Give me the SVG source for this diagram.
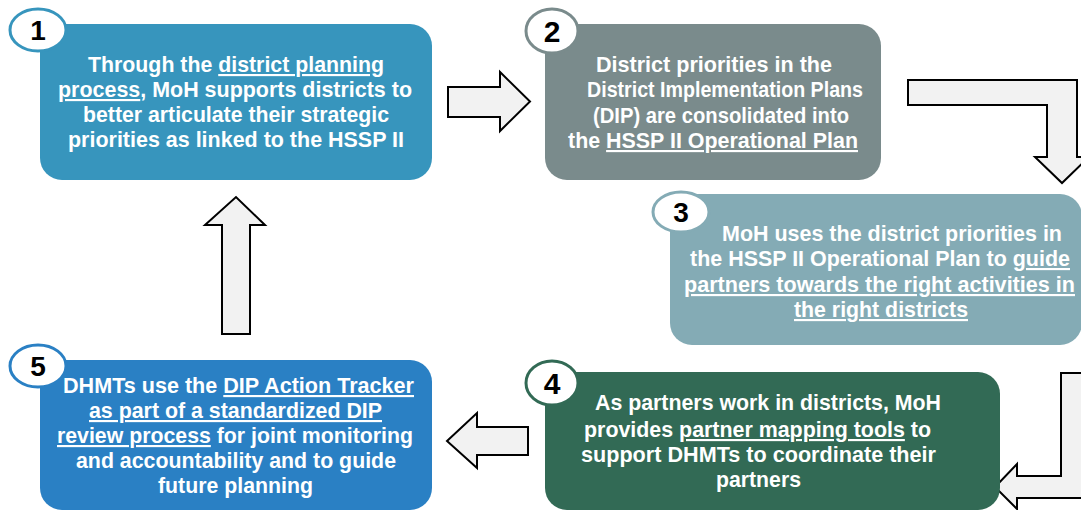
<svg xmlns="http://www.w3.org/2000/svg" width="1081" height="510" viewBox="0 0 1081 510">
  <style>
    .wide { font-family: "Liberation Sans", Arial, sans-serif; font-weight: bold; font-size: 21.5px; fill: #ffffff; }
    .narrow { font-family: "Liberation Sans Narrow", "Liberation Sans", Arial, sans-serif; font-weight: bold; font-size: 21.5px; fill: #ffffff; }
    .num { font-family: "Liberation Sans", Arial, sans-serif; font-weight: bold; font-size: 28px; fill: #000000; text-anchor: middle; }
    .numn { font-family: "Liberation Sans Narrow", "Liberation Sans", Arial, sans-serif; font-weight: bold; font-size: 30px; fill: #000000; text-anchor: middle; }
    .badge { fill: #ffffff; stroke-width: 3; }
    .arrow { fill: #f2f2f2; stroke: #000000; stroke-width: 2; stroke-linejoin: miter; }
    .u { text-decoration: underline; }
  </style>
  <rect width="1081" height="510" fill="#ffffff"/>

  <!-- connectors: block arrows between steps -->
  <g id="connectors">
    <path class="arrow" d="M448,87 L500,87 L500,72 L530,101.5 L500,131 L500,117 L448,117 Z"/>
    <path class="arrow" d="M908,80 L1077,80 L1077,157 L1089,157 L1062,183 L1035,157 L1047,157 L1047,105 L908,105 Z"/>
    <path class="arrow" d="M1061,373 L1095,373 L1095,498 L1017,498 L1017,509 L995,487 L1017,464 L1017,476 L1061,476 Z"/>
    <path class="arrow" d="M528,427 L477,427 L477,413 L447,441 L477,468 L477,455 L528,455 Z"/>
    <path class="arrow" d="M222,334 L222,225 L205,225 L236,197 L265,225 L250,225 L250,334 Z"/>
  </g>

  <!-- step 1 -->
  <g id="step1">
    <rect x="40" y="24" width="392" height="156" rx="22" fill="#3795bd"/>
    <ellipse class="badge" cx="38" cy="30" rx="28" ry="21" stroke="#3795bd"/>
    <text class="num" x="38" y="40">1</text>
    <text class="wide" x="88" y="72" textLength="296" lengthAdjust="spacingAndGlyphs">Through the <tspan class="u">district planning</tspan></text>
    <text class="wide" x="58" y="97" textLength="354" lengthAdjust="spacingAndGlyphs"><tspan class="u">process</tspan>, MoH supports districts to</text>
    <text class="wide" x="83" y="122" textLength="306" lengthAdjust="spacingAndGlyphs">better articulate their strategic</text>
    <text class="wide" x="68" y="147" textLength="336" lengthAdjust="spacingAndGlyphs">priorities as linked to the HSSP II</text>
  </g>

  <!-- step 2 -->
  <g id="step2">
    <rect x="545" y="24" width="336" height="156" rx="22" fill="#7a8b8c"/>
    <ellipse class="badge" cx="552" cy="31" rx="26" ry="22" stroke="#7a8b8c"/>
    <text class="numn" x="552" y="42">2</text>
    <text class="narrow" x="596" y="72" textLength="236" lengthAdjust="spacingAndGlyphs">District priorities in the</text>
    <text class="narrow" x="587" y="97" textLength="276" lengthAdjust="spacingAndGlyphs">District Implementation Plans</text>
    <text class="narrow" x="593" y="123" textLength="256" lengthAdjust="spacingAndGlyphs">(DIP) are consolidated into</text>
    <text class="narrow" x="568" y="148" textLength="290" lengthAdjust="spacingAndGlyphs">the <tspan class="u">HSSP II Operational Plan</tspan></text>
  </g>

  <!-- step 3 -->
  <g id="step3">
    <rect x="670" y="194" width="412" height="151" rx="22" fill="#84abb5"/>
    <ellipse class="badge" cx="681" cy="212" rx="28" ry="20" stroke="#84abb5"/>
    <text class="num" x="681" y="222">3</text>
    <text class="wide" x="722" y="241" textLength="340" lengthAdjust="spacingAndGlyphs">MoH uses the district priorities in</text>
    <text class="wide" x="690" y="266" textLength="380" lengthAdjust="spacingAndGlyphs">the HSSP II Operational Plan to <tspan class="u">guide</tspan></text>
    <text class="wide u" x="684" y="292" textLength="391" lengthAdjust="spacingAndGlyphs">partners towards the right activities in</text>
    <text class="wide u" x="794" y="317" textLength="174" lengthAdjust="spacingAndGlyphs">the right districts</text>
  </g>

  <!-- step 4 -->
  <g id="step4">
    <rect x="545" y="372" width="455" height="138" rx="22" fill="#326a55"/>
    <ellipse class="badge" cx="552" cy="383" rx="26" ry="22" stroke="#326a55"/>
    <text class="numn" x="552" y="394">4</text>
    <text class="narrow" x="595" y="410" textLength="346" lengthAdjust="spacingAndGlyphs">As partners work in districts, MoH</text>
    <text class="narrow" x="584" y="437" textLength="347" lengthAdjust="spacingAndGlyphs">provides <tspan class="u">partner mapping tools</tspan> to</text>
    <text class="narrow" x="581" y="462" textLength="355" lengthAdjust="spacingAndGlyphs">support DHMTs to coordinate their</text>
    <text class="narrow" x="716" y="487" textLength="85" lengthAdjust="spacingAndGlyphs">partners</text>
  </g>

  <!-- step 5 -->
  <g id="step5">
    <rect x="40" y="360" width="392" height="150" rx="22" fill="#2a80c4"/>
    <ellipse class="badge" cx="38" cy="366" rx="28" ry="21" stroke="#2a80c4"/>
    <text class="num" x="38" y="376">5</text>
    <text class="wide" x="63" y="393" textLength="351" lengthAdjust="spacingAndGlyphs">DHMTs use the <tspan class="u">DIP Action Tracker</tspan></text>
    <text class="wide u" x="89" y="418" textLength="293" lengthAdjust="spacingAndGlyphs">as part of a standardized DIP</text>
    <text class="wide" x="57" y="443" textLength="356" lengthAdjust="spacingAndGlyphs"><tspan class="u">review process</tspan> for joint monitoring</text>
    <text class="wide" x="76" y="468" textLength="320" lengthAdjust="spacingAndGlyphs">and accountability and to guide</text>
    <text class="wide" x="158" y="493" textLength="155" lengthAdjust="spacingAndGlyphs">future planning</text>
  </g>
</svg>
